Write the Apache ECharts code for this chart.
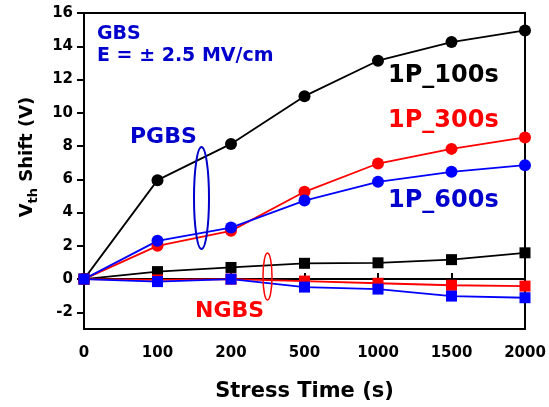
<!DOCTYPE html>
<html>
<head>
<meta charset="utf-8">
<script src="https://cdn.jsdelivr.net/npm/echarts@6/dist/echarts.min.js"></script>
<style>
html, body { margin: 0; padding: 0; background: #fff; }
#main { width: 549px; height: 407px; }
</style>
</head>
<body>
<div id="main"></div>
<script>
// stress times (s), evenly spaced on the axis
const stressTimes = ['0', '100', '200', '500', '1000', '1500', '2000'];
const yTicks = [-2, 0, 2, 4, 6, 8, 10, 12, 14, 16];

// PGBS (circles)
const pgbs100 = [0, 5.95, 8.13, 11.0, 13.13, 14.25, 14.95];
const pgbs300 = [0, 2.0, 2.9, 5.25, 6.95, 7.83, 8.52];
const pgbs600 = [0, 2.3, 3.1, 4.72, 5.85, 6.45, 6.85];
// NGBS (squares)
const ngbs100 = [0, 0.45, 0.7, 0.95, 0.98, 1.17, 1.58];
const ngbs300 = [0, -0.05, 0, -0.12, -0.25, -0.37, -0.42];
const ngbs600 = [0, -0.15, 0, -0.48, -0.6, -1.02, -1.12];

const BOLD = 'DejaVu Sans';
const myChart = echarts.init(document.getElementById('main'));

function line(name, values, color, symbol, size) {
	return {
		name: name,
		type: 'line',
		data: values,
		symbol: symbol,
		symbolSize: size,
		showSymbol: true,
		itemStyle: { color: color, opacity: 1 },
		lineStyle: { color: color, width: 1.8 },
		animation: false
	};
}

function label(text, x, y, size, color) {
	return {
		type: 'text',
		style: {
			text: text,
			x: x,
			y: y,
			fill: color,
			font: 'bold ' + size + 'px "' + BOLD + '"',
			textAlign: 'left',
			textVerticalAlign: 'middle'
		},
		z: 100
	};
}

const option = {
	backgroundColor: '#fff',
	grid: {
		left: 84,
		right: 24,
		top: 13,
		bottom: 76,
		show: true,
		borderColor: '#000',
		borderWidth: 2
	},
	xAxis: {
		type: 'category',
		data: stressTimes,
		boundaryGap: false,
		name: 'Stress Time (s)',
		nameLocation: 'middle',
		nameGap: 52,
		nameTextStyle: { fontFamily: BOLD, fontWeight: 'bold', fontSize: 21, color: '#000' },
		axisLine: { lineStyle: { color: '#000', width: 2 } },
		axisTick: { inside: true, length: 6, lineStyle: { color: '#000', width: 2 } },
		axisLabel: { fontFamily: BOLD, fontWeight: 'bold', fontSize: 15, color: '#000', margin: 17 },
		splitLine: { show: false }
	},
	yAxis: {
		type: 'value',
		min: -3,
		max: 16,
		axisLine: { show: true, lineStyle: { color: '#000', width: 2 } },
		axisTick: { show: true, length: 7, customValues: yTicks, lineStyle: { color: '#000', width: 2 } },
		axisLabel: { fontFamily: BOLD, fontWeight: 'bold', fontSize: 15, color: '#000', margin: 11, customValues: yTicks },
		splitLine: { show: false }
	},
	graphic: [
		{
			type: 'text',
			x: 27,
			y: 157,
			rotation: Math.PI / 2,
			style: {
				text: '{v|V}{s|th}{v| Shift (V)}',
				textAlign: 'center',
				textVerticalAlign: 'middle',
				rich: {
					v: { fontFamily: BOLD, fontWeight: 'bold', fontSize: 18, fill: '#000', verticalAlign: 'bottom' },
					s: { fontFamily: BOLD, fontWeight: 'bold', fontSize: 13, fill: '#000', verticalAlign: 'bottom', padding: [0, 0, -4, 0] }
				}
			}
		},
		label('GBS', 97, 34, 19, '#0000cc'),
		label('E = \u00b1 2.5 MV/cm', 97, 56, 19, '#0000cc'),
		label('1P_100s', 388, 76, 24, '#000'),
		label('1P_300s', 388, 121, 24, '#ff0000'),
		label('1P_600s', 388, 201, 24, '#0000cc'),
		label('PGBS', 130, 137, 22, '#0000cc'),
		label('NGBS', 195, 311, 22, '#ff0000'),
		{
			type: 'ellipse',
			shape: { cx: 201.5, cy: 198, rx: 7.5, ry: 51 },
			style: { fill: 'none', stroke: '#0000cc', lineWidth: 2 },
			z: 100
		},
		{
			type: 'ellipse',
			shape: { cx: 267.5, cy: 276.5, rx: 4.5, ry: 23.5 },
			style: { fill: 'none', stroke: '#ff0000', lineWidth: 1.5 },
			z: 100
		}
	],
	series: [
		line('PGBS 1P_100s', pgbs100, '#000', 'circle', 12),
		line('PGBS 1P_300s', pgbs300, '#ff0000', 'circle', 12),
		line('PGBS 1P_600s', pgbs600, '#0000ff', 'circle', 12),
		line('NGBS 1P_100s', ngbs100, '#000', 'rect', 11),
		line('NGBS 1P_300s', ngbs300, '#ff0000', 'rect', 11),
		line('NGBS 1P_600s', ngbs600, '#0000ff', 'rect', 11)
	]
};

myChart.setOption(option);
</script>
</body>
</html>
